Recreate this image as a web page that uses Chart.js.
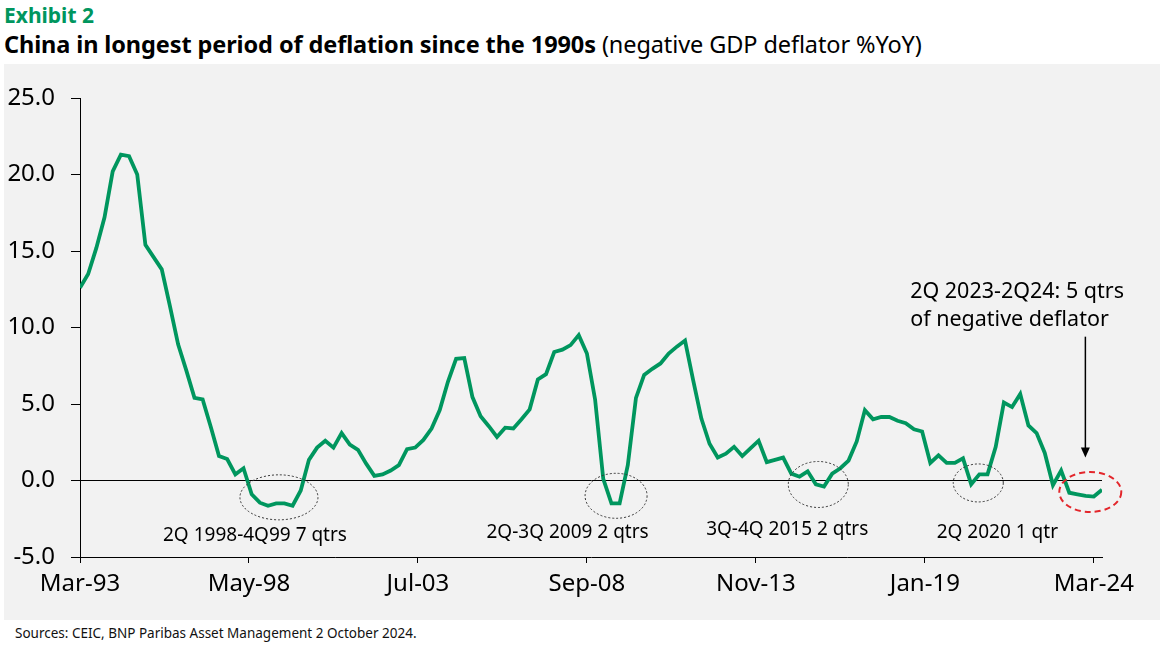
<!DOCTYPE html>
<html>
<head>
<meta charset="utf-8">
<script src="https://cdn.jsdelivr.net/npm/chart.js@4.4.1/dist/chart.umd.min.js"></script>
<style>
  html, body { margin: 0; padding: 0; background: #fff; }
  body { width: 1160px; height: 645px; position: relative; overflow: hidden; font-family: "Noto Sans", sans-serif; }
  .exhibit { position: absolute; left: 4px; top: 1px; font-size: 21px; font-weight: 700; color: #00965e; }
  .title { position: absolute; left: 4px; top: 28px; font-size: 23.5px; color: #000; white-space: nowrap; letter-spacing: -0.1px; }
  .title b { font-weight: 700; }
  .panel { position: absolute; left: 4px; top: 64px; width: 1156px; height: 556px; background: #f2f2f2; }
  .sources { position: absolute; left: 15px; top: 624px; font-size: 13.5px; color: #111; }
</style>
</head>
<body>
<div class="exhibit">Exhibit 2</div>
<div class="title"><b>China in longest period of deflation since the 1990s</b> (negative GDP deflator %YoY)</div>
<div class="panel"><canvas id="deflatorChart"></canvas></div>
<div class="sources">Sources: CEIC, BNP Paribas Asset Management 2 October 2024.</div>

<script>
document.addEventListener('DOMContentLoaded', function () {
    // quarterly data, 1Q1993 .. 2Q2024
    const startYear = 1993;
    const deflator = [
        12.6, 13.5, 15.2, 17.2, 20.2, 21.3, 21.2, 20.0,     // 1993-94
        15.4, 14.6, 13.8, 11.4, 8.9, 7.2, 5.4, 5.3,         // 1995-96
        3.5, 1.6, 1.4, 0.4, 0.8, -0.9, -1.45, -1.65,        // 1997-98
        -1.5, -1.5, -1.65, -0.65, 1.35, 2.15, 2.6, 2.15,    // 1999-2000
        3.1, 2.35, 2.0, 1.1, 0.3, 0.4, 0.65, 1.0,           // 2001-02
        2.05, 2.15, 2.65, 3.4, 4.6, 6.45, 7.95, 8.0,        // 2003-04
        5.45, 4.2, 3.55, 2.85, 3.45, 3.4, 4.0, 4.65,        // 2005-06
        6.6, 6.95, 8.4, 8.55, 8.85, 9.5, 8.3, 5.3,          // 2007-08
        0.1, -1.5, -1.5, 1.0, 5.4, 6.9, 7.3, 7.65,          // 2009-10
        8.3, 8.75, 9.15, 6.55, 4.05, 2.4, 1.5, 1.75,        // 2011-12
        2.2, 1.6, 2.1, 2.6, 1.2, 1.35, 1.5, 0.45,           // 2013-14
        0.25, 0.6, -0.25, -0.4, 0.45, 0.8, 1.3, 2.55,       // 2015-16
        4.6, 4.0, 4.15, 4.15, 3.9, 3.75, 3.35, 3.2,         // 2017-18
        1.15, 1.65, 1.15, 1.15, 1.45, -0.25, 0.4, 0.4,      // 2019-20
        2.2, 5.1, 4.8, 5.65, 3.6, 3.1, 1.8, -0.3,           // 2021-22
        0.65, -0.8, -0.9, -1.0, -1.05, -0.6                 // 2023-2Q24
    ];
    const quarters = deflator.map((v, i) => (startYear + Math.floor(i / 4)) + 'Q' + (i % 4 + 1));

    // x axis is months since Mar-93
    const tickMonths = [0, 62, 124, 186, 248, 310, 372];
    const tickLabels = ['Mar-93', 'May-98', 'Jul-03', 'Sep-08', 'Nov-13', 'Jan-19', 'Mar-24'];
    const yTicks = [-5, 0, 5, 10, 15, 20, 25];

    // annotation anchors in data units (months, %)
    const dips = [
        { x: 73, y: -1.1, rx: 39, ry: 22.5, text: '2Q 1998-4Q99 7 qtrs', tx: 64.2, ty: -3.6 },
        { x: 196.7, y: -1.0, rx: 31, ry: 22.5, text: '2Q-3Q 2009 2 qtrs', tx: 178.9, ty: -3.4 },
        { x: 270.9, y: -0.26, rx: 30, ry: 23, text: '3Q-4Q 2015 2 qtrs', tx: 259.5, ty: -3.2 },
        { x: 329.6, y: -0.16, rx: 25, ry: 19, text: '2Q 2020 1 qtr', tx: 336.6, ty: -3.4 }
    ];
    const latest = { x: 370.7, y: -0.75, rx: 31, ry: 20 };
    const note = { lines: ['2Q 2023-2Q24: 5 qtrs', 'of negative deflator'], x: 304.6, y: 12.3, arrowX: 368.9, arrowTop: 9.4, arrowTip: 1.5 };

    const points = deflator.map((v, i) => ({ x: i * 3, y: v, q: quarters[i] }));

    const annotations = {
        id: 'annotations',
        afterDatasetsDraw(chart) {
            const { ctx, scales: { x, y } } = chart;
            ctx.save();

            // dotted ellipses round earlier dips
            ctx.strokeStyle = '#333';
            ctx.lineWidth = 1;
            ctx.setLineDash([2, 2]);
            dips.forEach(d => {
                ctx.beginPath();
                ctx.ellipse(x.getPixelForValue(d.x), y.getPixelForValue(d.y), d.rx, d.ry, 0, 0, Math.PI * 2);
                ctx.stroke();
            });

            // red dashed ellipse round the current run
            ctx.strokeStyle = '#e3262b';
            ctx.lineWidth = 2;
            ctx.setLineDash([6, 4]);
            ctx.beginPath();
            ctx.ellipse(x.getPixelForValue(latest.x), y.getPixelForValue(latest.y), latest.rx, latest.ry, 0, 0, Math.PI * 2);
            ctx.stroke();
            ctx.setLineDash([]);

            // dip labels
            ctx.fillStyle = '#000';
            ctx.font = '19px "Noto Sans"';
            ctx.textAlign = 'center';
            ctx.textBaseline = 'middle';
            dips.forEach(d => {
                ctx.fillText(d.text, x.getPixelForValue(d.tx), y.getPixelForValue(d.ty));
            });

            // top-right note and arrow
            ctx.font = '21.5px "Noto Sans"';
            ctx.textAlign = 'left';
            const nx = x.getPixelForValue(note.x);
            const ny = y.getPixelForValue(note.y);
            note.lines.forEach((line, k) => ctx.fillText(line, nx, ny + k * 27.5));

            const ax = x.getPixelForValue(note.arrowX);
            const top = y.getPixelForValue(note.arrowTop);
            const tip = y.getPixelForValue(note.arrowTip);
            ctx.strokeStyle = '#000';
            ctx.lineWidth = 1.5;
            ctx.beginPath();
            ctx.moveTo(ax, top);
            ctx.lineTo(ax, tip - 8);
            ctx.stroke();
            ctx.beginPath();
            ctx.moveTo(ax - 4.5, tip - 10);
            ctx.lineTo(ax + 4.5, tip - 10);
            ctx.lineTo(ax, tip);
            ctx.closePath();
            ctx.fill();

            ctx.restore();
        }
    };

    const ctx = document.getElementById('deflatorChart').getContext('2d');
    new Chart(ctx, {
        type: 'line',
        data: {
            datasets: [{
                label: 'GDP deflator %YoY',
                data: points,
                borderColor: '#00965e',
                borderWidth: 3.8,
                pointRadius: 0,
                tension: 0,
                fill: false
            }]
        },
        options: {
            responsive: true,
            maintainAspectRatio: false,
            animation: false,
            layout: { padding: { left: 0, right: 58, top: 34, bottom: 0 } },
            plugins: {
                legend: { display: false },
                tooltip: { enabled: false }
            },
            scales: {
                x: {
                    type: 'linear',
                    min: 0,
                    max: 375,
                    afterBuildTicks: axis => { axis.ticks = tickMonths.map(v => ({ value: v })); },
                    afterFit: axis => { axis.height = 63; },
                    ticks: {
                        autoSkip: false,
                        maxRotation: 0,
                        padding: 7,
                        color: '#000',
                        font: { family: 'Noto Sans', size: 24 },
                        callback: v => tickLabels[tickMonths.indexOf(v)]
                    },
                    grid: { drawOnChartArea: false, tickLength: 6, tickColor: '#000' },
                    border: { color: '#000', width: 1 }
                },
                y: {
                    min: -5,
                    max: 25,
                    afterBuildTicks: axis => { axis.ticks = yTicks.map(v => ({ value: v })); },
                    afterFit: axis => { axis.width = 76; },
                    ticks: {
                        padding: 16,
                        color: '#000',
                        font: { family: 'Noto Sans', size: 24 },
                        callback: v => v.toFixed(1)
                    },
                    grid: {
                        color: c => (c.tick && c.tick.value === 0 ? '#000' : 'rgba(0,0,0,0)'),
                        tickColor: '#000',
                        tickLength: 9,
                        lineWidth: 1
                    },
                    border: { color: '#000', width: 1 }
                }
            }
        },
        plugins: [annotations]
    });
});
</script>
</body>
</html>
